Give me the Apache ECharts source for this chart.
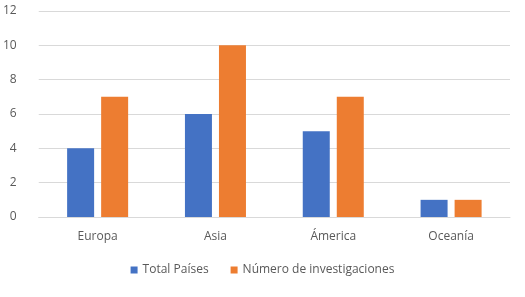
<!DOCTYPE html>
<html>
<head>
<meta charset="utf-8">
<script src="https://cdn.jsdelivr.net/npm/echarts@6/dist/echarts.min.js"></script>
<style>
  html, body { margin: 0; padding: 0; background: #fff; }
  #chart { width: 525px; height: 297px; }
</style>
</head>
<body>
<div id="chart"></div>
<script>
// datos
const categories = ['Europa', 'Asia', 'Ámerica', 'Oceanía'];
const totalPaises = [4, 6, 5, 1];
const numInvestigaciones = [7, 10, 7, 1];
const seriesNames = ['Total Países', 'Número de investigaciones'];

const FONT = '"Open Sans", "Liberation Sans", sans-serif';
const TEXT = '#595959';

const chart = echarts.init(document.getElementById('chart'));

chart.setOption({
  animation: false,
  backgroundColor: '#fff',
  textStyle: { fontFamily: FONT },
  grid: { left: 36, right: 15, top: 11, bottom: 80 },
  legend: {
    bottom: 16,
    left: 'center',
    icon: 'rect',
    itemWidth: 7,
    itemHeight: 7,
    itemGap: 22,
    textStyle: { color: TEXT, fontSize: 12, fontFamily: FONT },
    data: seriesNames
  },
  xAxis: {
    type: 'category',
    data: categories,
    axisLine: { lineStyle: { color: '#d9d9d9' } },
    axisTick: { show: false },
    axisLabel: { color: TEXT, fontSize: 12, margin: 14, fontFamily: FONT }
  },
  yAxis: {
    type: 'value',
    min: 0,
    max: 12,
    interval: 2,
    axisLine: { show: false },
    axisTick: { show: false },
    axisLabel: { color: TEXT, fontSize: 12, margin: 22, fontFamily: FONT },
    splitLine: { lineStyle: { color: '#d9d9d9' } }
  },
  series: [
    {
      name: seriesNames[0],
      type: 'bar',
      data: totalPaises,
      barWidth: 27,
      barGap: '26%',
      itemStyle: { color: '#4472C4' }
    },
    {
      name: seriesNames[1],
      type: 'bar',
      data: numInvestigaciones,
      barWidth: 27,
      itemStyle: { color: '#ED7D31' }
    }
  ]
});
</script>
</body>
</html>
